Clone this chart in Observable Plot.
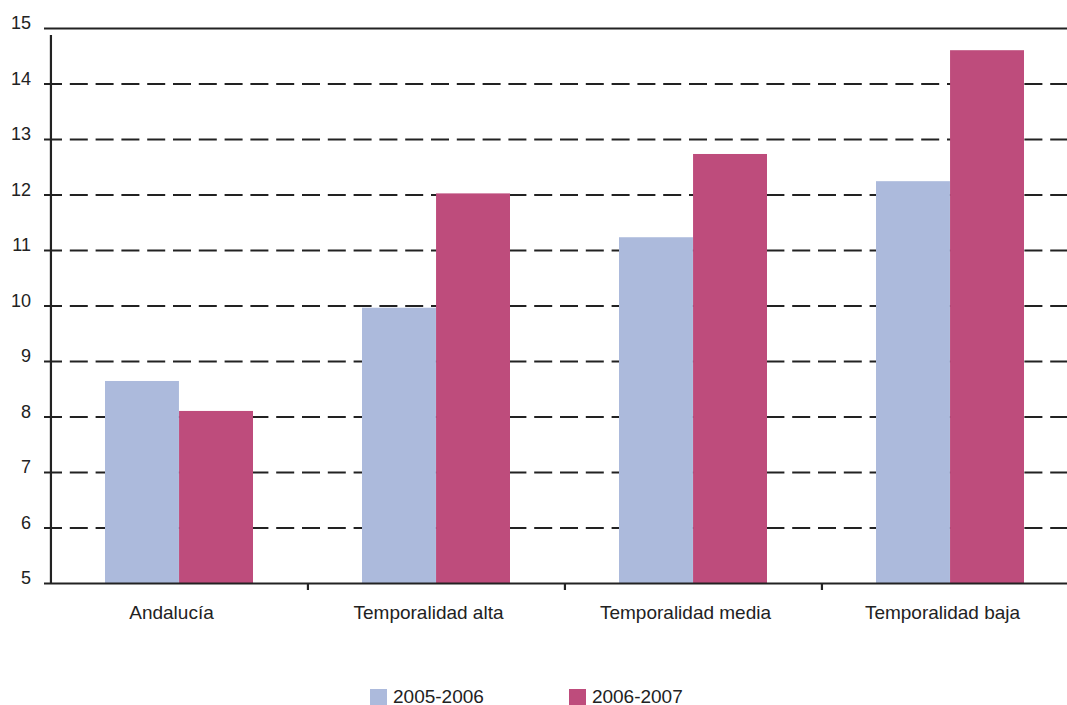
<!DOCTYPE html>
<html>
<head>
<meta charset="utf-8">
<script src="https://cdn.jsdelivr.net/npm/d3@7"></script>
<script src="https://cdn.jsdelivr.net/npm/@observablehq/plot@0.6"></script>
<style>
  html, body { margin: 0; padding: 0; background: #fff; overflow: hidden; }
  body { width: 1067px; height: 705px; font-family: "Liberation Sans", Arial, Helvetica, sans-serif; color: #222; }
  #legend { display: flex; align-items: center; margin-left: 370px; margin-top: 46px; font-size: 19px; }
  .item { display: flex; align-items: center; margin-right: 85px; }
  .swatch { width: 17px; height: 17px; margin-right: 6px; }
</style>
</head>
<body>
<div id="chart"></div>
<div id="legend"></div>
<script>
// Categories and the two school years compared
const categories = ["Andalucía", "Temporalidad alta", "Temporalidad media", "Temporalidad baja"];
const seriesNames = ["2005-2006", "2006-2007"];
const values2005 = [8.64, 9.96, 11.23, 12.24];
const values2006 = [8.10, 12.02, 12.73, 14.60];
const yTicks = [5, 6, 7, 8, 9, 10, 11, 12, 13, 14, 15];
const seriesColors = ["#acbadc", "#be4c7c"];

const rows2005 = categories.map((c, i) => ({category: c, series: seriesNames[0], value: values2005[i]}));
const rows2006 = categories.map((c, i) => ({category: c, series: seriesNames[1], value: values2006[i]}));

const width = 1080, marginLeft = 50.5, marginRight = 1;
const paddingInner = 0.424, paddingOuter = 0.212;
const step = (width - marginLeft - marginRight) / categories.length;
const half = step * (1 - paddingInner) / 2;

const ink = "#222";
const dashedTicks = yTicks.filter(t => t !== yTicks[0] && t !== yTicks[yTicks.length - 1]);

const chart = Plot.plot({
  width,
  height: 640,
  marginLeft,
  marginRight,
  marginTop: 28,
  marginBottom: 57,
  style: {maxWidth: "none", fontFamily: "'Liberation Sans', Arial, Helvetica, sans-serif", color: ink, background: "#fff", overflow: "visible"},
  x: {domain: categories, paddingInner, paddingOuter, label: null},
  y: {domain: [yTicks[0], yTicks[yTicks.length - 1]], label: null},
  color: {domain: seriesNames, range: seriesColors},
  marks: [
    // dashed gridlines, with the tick stubs to the left of the axis
    Plot.ruleY(dashedTicks, {stroke: ink, strokeWidth: 2.2, strokeDasharray: "18,7.8", insetLeft: -6.5}),
    // bars: first year on the left half of each band, second on the right
    Plot.barY(rows2005, {x: "category", y1: yTicks[0], y2: "value", fill: "series", insetRight: half}),
    Plot.barY(rows2006, {x: "category", y1: yTicks[0], y2: "value", fill: "series", insetLeft: half}),
    // solid top and bottom lines
    Plot.ruleY([yTicks[0], yTicks[yTicks.length - 1]], {stroke: ink, strokeWidth: 2.2, insetLeft: -6.5}),
    // vertical axis line
    Plot.ruleX([categories[0]], {x: d => d, y1: yTicks[0], y2: yTicks[yTicks.length - 1], dx: -step / 2, insetBottom: -7, stroke: ink, strokeWidth: 2.2}),
    // category separator ticks
    Plot.ruleX(categories.slice(1), {x: d => d, y1: yTicks[0], y2: yTicks[0], dx: -step / 2, insetBottom: -7, stroke: ink, strokeWidth: 2.2}),
    Plot.axisY({ticks: yTicks, tickSize: 0, tickPadding: 20, dy: -5, fontSize: 18, tickFormat: d => String(d)}),
    Plot.axisX({tickSize: 0, tickPadding: 22, dx: -8, fontSize: 19})
  ]
});
document.getElementById("chart").appendChild(chart);

// legend
const legend = document.getElementById("legend");
seriesNames.forEach((name, i) => {
  const item = document.createElement("div");
  item.className = "item";
  const sw = document.createElement("div");
  sw.className = "swatch";
  sw.style.background = seriesColors[i];
  const label = document.createElement("span");
  label.textContent = name;
  item.appendChild(sw);
  item.appendChild(label);
  legend.appendChild(item);
});
</script>
</body>
</html>
